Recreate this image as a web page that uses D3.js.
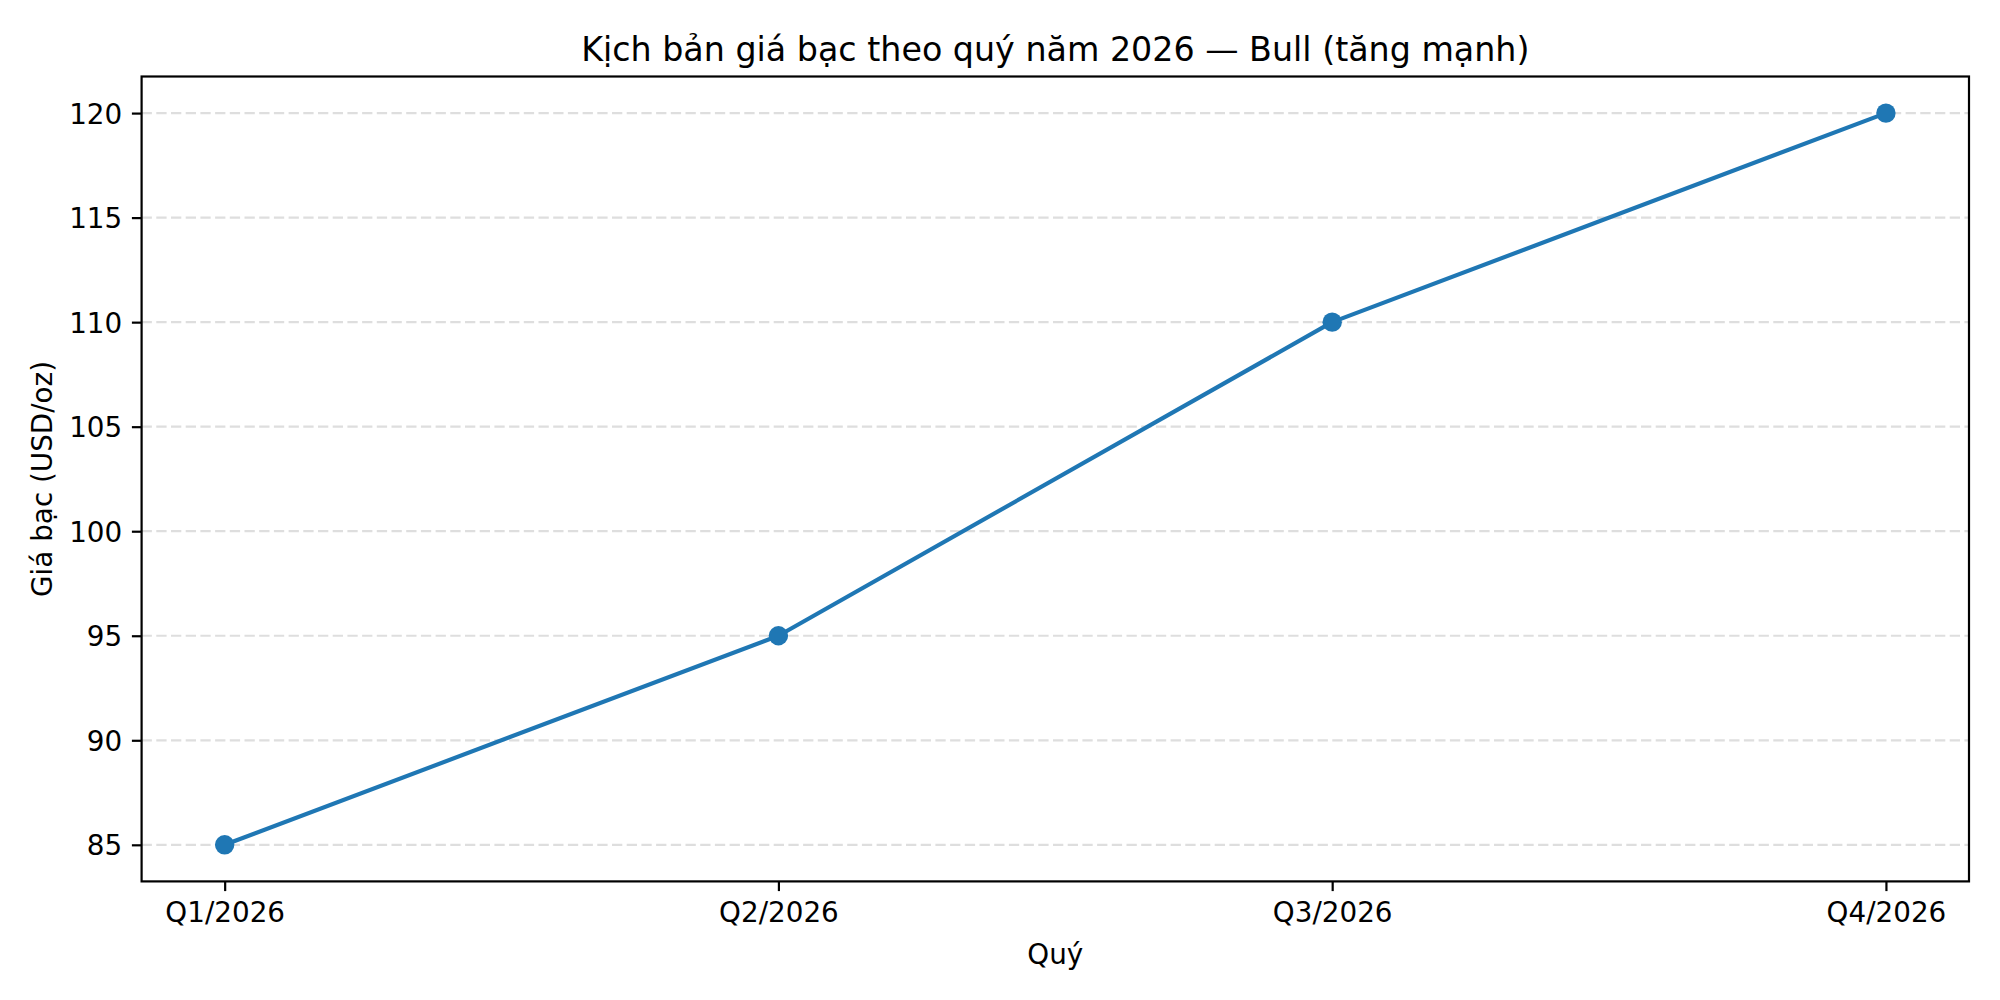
<!DOCTYPE html>
<html><head><meta charset="utf-8">
<script src="https://cdn.jsdelivr.net/npm/d3@7"></script>
<style>html,body{margin:0;padding:0;background:#fff;} svg{display:block;font-family:"DejaVu Sans",sans-serif;}</style>
</head><body>
<svg id="c" width="2000" height="1000"></svg>
<script>
const quarters = ["Q1/2026","Q2/2026","Q3/2026","Q4/2026"];
const prices = [85, 95, 110, 120];
const yTicks = [85, 90, 95, 100, 105, 110, 115, 120];
const titleText = "Kịch bản giá bạc theo quý năm 2026 — Bull (tăng mạnh)";
const xLabel = "Quý";
const yLabel = "Giá bạc (USD/oz)";

const svg = d3.select("#c");
const L = 141.6, R = 1969, T = 76.5, B = 881.4;
const x = d3.scaleLinear().domain([-0.15, 3.15]).range([L, R]);
const y = d3.scaleLinear().domain([83.25, 121.75]).range([B, T]);
const fs = 27.8;

svg.append("rect").attr("width",2000).attr("height",1000).attr("fill","#fff");

// grid
svg.append("g").selectAll("line").data(yTicks).join("line")
  .attr("x1", L).attr("x2", R)
  .attr("y1", d => y(d)).attr("y2", d => y(d))
  .attr("stroke", "#dedede").attr("stroke-width", 2.2)
  .attr("stroke-dasharray", "10.3,4.4");

// line
const lineGen = d3.line().x((d,i) => x(i)).y(d => y(d));
svg.append("path").datum(prices).attr("d", lineGen)
  .attr("fill","none").attr("stroke","#1f77b4").attr("stroke-width",4.17)
  .attr("stroke-linejoin","round").attr("stroke-linecap","square");
svg.append("g").selectAll("circle").data(prices).join("circle")
  .attr("cx",(d,i)=>x(i)).attr("cy",d=>y(d)).attr("r",9.7).attr("fill","#1f77b4");

// axes
const yAxis = d3.axisLeft(y).tickValues(yTicks).tickSize(9.7).tickPadding(9.7).tickFormat(d3.format("d"));
const xAxis = d3.axisBottom(x).tickValues(d3.range(quarters.length)).tickSize(9.7).tickPadding(9.7).tickFormat(i => quarters[i]);
const gy = svg.append("g").attr("transform",`translate(${L},0)`).call(yAxis);
const gx = svg.append("g").attr("transform",`translate(0,${B})`).call(xAxis);
[gx, gy].forEach(g => {
  g.select(".domain").remove();
  g.selectAll(".tick line").attr("stroke","#000").attr("stroke-width",2.2);
  g.selectAll(".tick text").attr("fill","#000").style("font-size", fs+"px").style("font-family","DejaVu Sans");
});
gy.selectAll(".tick text").attr("dy","0.36em");
gx.selectAll(".tick text").attr("dy","0.78em");

// frame
svg.append("rect").attr("x",L).attr("y",T).attr("width",R-L).attr("height",B-T)
  .attr("fill","none").attr("stroke","#000").attr("stroke-width",2.2);

// labels
svg.append("text").attr("x",(L+R)/2).attr("y",60.5).attr("text-anchor","middle")
  .style("font-size","33.3px").attr("fill","#000").text(titleText);
svg.append("text").attr("x",(L+R)/2).attr("y",964).attr("text-anchor","middle")
  .style("font-size",fs+"px").attr("fill","#000").text(xLabel);
svg.append("text").attr("transform",`translate(52,${(T+B)/2}) rotate(-90)`).attr("text-anchor","middle")
  .style("font-size",fs+"px").attr("fill","#000").text(yLabel);
</script>
</body></html>
